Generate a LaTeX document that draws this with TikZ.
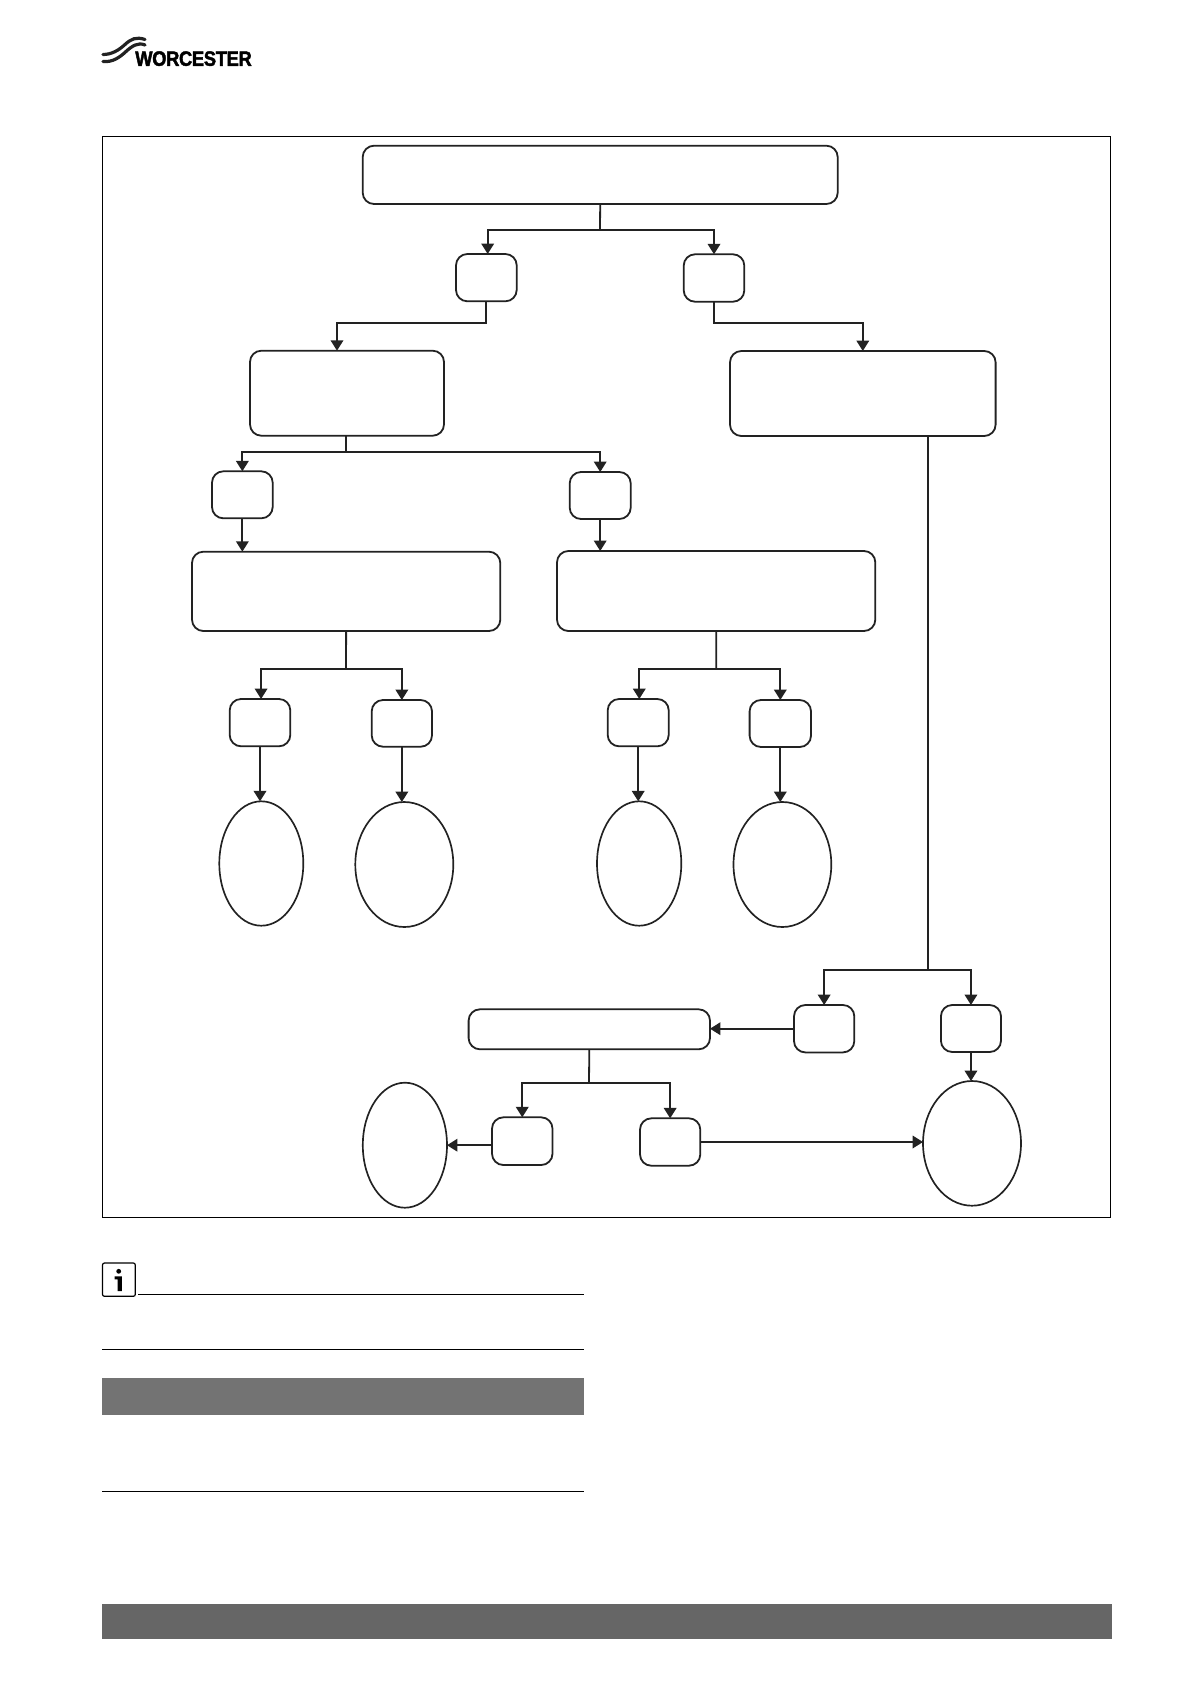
\documentclass[tikz,border=0pt]{standalone}
\usepackage{fontspec}
\setmainfont{Liberation Sans}
\newfontfamily\logofont[FakeStretch=0.88,FakeBold=2,LetterSpace=-1.5]{Liberation Sans Bold}
\usetikzlibrary{arrows.meta,shapes.geometric,calc}
\definecolor{ink}{HTML}{222222}
\definecolor{bandgrey}{HTML}{737373}
\definecolor{footgrey}{HTML}{666666}
\tikzset{
  rbox/.style={draw=ink,line width=1.35pt,rounded corners=8.5pt,inner sep=0pt,outer sep=0pt,fill=white},
  oval/.style={draw=ink,line width=1.25pt,ellipse,inner sep=0pt,outer sep=0pt,fill=white},
  link/.style={draw=ink,line width=1.35pt},
  arr/.style={link,-{Triangle[width=9.4pt,length=7.8pt]}},
  rule/.style={draw=black,line width=0.9pt},
  wave/.style={draw=ink,line width=2.4pt,line cap=round},
}
\newcommand{\rectnode}[5]{\node[rbox,minimum width={(#4-#2)*0.75pt},minimum height={(#5-#3)*0.75pt}] (#1) at ({(#2+#4)/2},{(#3+#5)/2}) {};}
\newcommand{\ovalnode}[5]{\node[oval,minimum width={(#4-#2)*0.75pt},minimum height={(#5-#3)*0.75pt}] (#1) at ({(#2+#4)/2},{(#3+#5)/2}) {};}
\begin{document}
\begin{tikzpicture}[x=0.75pt,y=-0.75pt]
\useasboundingbox (0,0) rectangle (1190,1684);
\fill[white] (0,0) rectangle (1190,1684);

% logo
\draw[wave] (103,54.5) .. controls (112,54.5) and (119,50) .. (125,44.5) .. controls (131,39) and (136,36.5) .. (145,39.5);
\draw[wave] (103,61.5) .. controls (113,62.5) and (120,57) .. (126,51.5) .. controls (132,46) and (138,42) .. (145,45);
\node[inner sep=0pt,anchor=base west] (logo) at (135,65.8) {\logofont\fontsize{15.6pt}{16pt}\selectfont WORCESTER};

% frame
\draw[draw=black,line width=0.75pt] (102,136.3) rectangle (1110.5,1217);

% boxes
\rectnode{top}{362.7}{145.7}{837.7}{204}
\rectnode{a}{456}{254}{516.7}{301.3}
\rectnode{b}{683.7}{254.3}{744.3}{301.7}
\rectnode{c}{250}{350.7}{444}{435.7}
\rectnode{d}{730}{351}{995.6}{436}
\rectnode{e}{212}{471.3}{272.7}{518.3}
\rectnode{f}{569.7}{472}{630.7}{519}
\rectnode{g}{192}{551.7}{500.3}{631}
\rectnode{h}{557}{551}{875.3}{631}
\rectnode{i}{229.7}{699}{290.3}{746.3}
\rectnode{j}{371.7}{700}{432}{746.7}
\rectnode{m}{607.7}{699}{668.7}{746.3}
\rectnode{o}{749.6}{700}{811}{747}
\rectnode{q}{794}{1005}{854.3}{1052.4}
\rectnode{r}{940.9}{1005}{1001}{1052}
\rectnode{s}{468.6}{1009.3}{710}{1049.3}
\rectnode{t}{492}{1117.3}{552.5}{1165}
\rectnode{u}{640}{1118.3}{700.3}{1165.7}

% ellipses
\ovalnode{k}{219.3}{801.3}{303.3}{925.7}
\ovalnode{l}{355.3}{802}{453.3}{927}
\ovalnode{n}{597}{801.3}{681.3}{925.7}
\ovalnode{p}{733.5}{802}{831.3}{927}
\ovalnode{v}{362.8}{1082.7}{447}{1207.7}
\ovalnode{w}{923}{1081}{1021}{1205.7}

% junctions
\coordinate (jtop) at (600,229.7);
\coordinate (jac) at (337,322.7);
\coordinate (jbd) at (800,322.7);
\coordinate (jc) at (346,452);
\coordinate (jg) at (346,669);
\coordinate (jh) at (716.2,669);
\coordinate (jd) at (928,970);
\coordinate (js) at (589,1082.7);

% connectors
\draw[link] (top.south) -- (jtop);
\draw[arr] (jtop) -| ([xshift=1pt]a.north);
\draw[arr] (jtop) -| (b.north);
\draw[arr] (a.south) |- (jac) -- (jac |- c.north);
\draw[arr] (b.south) |- (jbd) -| (d.north);
\draw[link] (jc |- c.south) -- (jc);
\draw[arr] (jc) -| (e.north);
\draw[arr] (jc) -| (f.north);
\draw[arr] (e.south) -- (e.south |- g.north);
\draw[arr] (f.south) -- (f.south |- h.north);
\draw[link] (g.south) -- (jg);
\draw[arr] (jg) -| ([xshift=0.8pt]i.north);
\draw[arr] (jg) -| (j.north);
\draw[link] (h.south) -- (jh);
\draw[arr] (jh) -| ([xshift=0.8pt]m.north);
\draw[arr] (jh) -| (o.north);
\draw[arr] (i.south) -- (i.south |- k.north);
\draw[arr] (j.south) -- (j.south |- l.north);
\draw[arr] (m.south) -- (m.south |- n.north);
\draw[arr] (o.south) -- (o.south |- p.north);
\draw[link] (jd |- d.south) -- (jd);
\draw[arr] (jd) -| (q.north);
\draw[arr] (jd) -| (r.north);
\draw[arr] (q.west) -- (q.west -| s.east);
\draw[arr] (r.south) -- (r.south |- w.north);
\draw[link] (s.south) -- (js);
\draw[arr] (js) -| (t.north);
\draw[arr] (js) -| (u.north);
\draw[arr] (v.east -| t.west) -- (v.east);
\draw[arr] (u.east) -- (u.east -| w.west);

% note area
\draw[draw=black,line width=0.9pt,rounded corners=1.5pt,fill=white] (102.5,1263) rectangle (135.3,1296.3);
\fill[black] (118.7,1271.3) circle (2.4);
\fill[black] (114.5,1276.3) -- (121.8,1276.3) -- (121.8,1291) -- (117.6,1291) -- (117.6,1279.3) -- (114.5,1279.3) -- cycle;
\draw[rule] (138.3,1294.3) -- (583.7,1294.3);
\draw[rule] (102,1349.3) -- (583.7,1349.3);
\fill[bandgrey] (102,1378) rectangle (583.7,1415);
\draw[rule] (102,1491.3) -- (583.7,1491.3);
\fill[footgrey] (102,1604) rectangle (1112,1639);
\end{tikzpicture}
\end{document}
